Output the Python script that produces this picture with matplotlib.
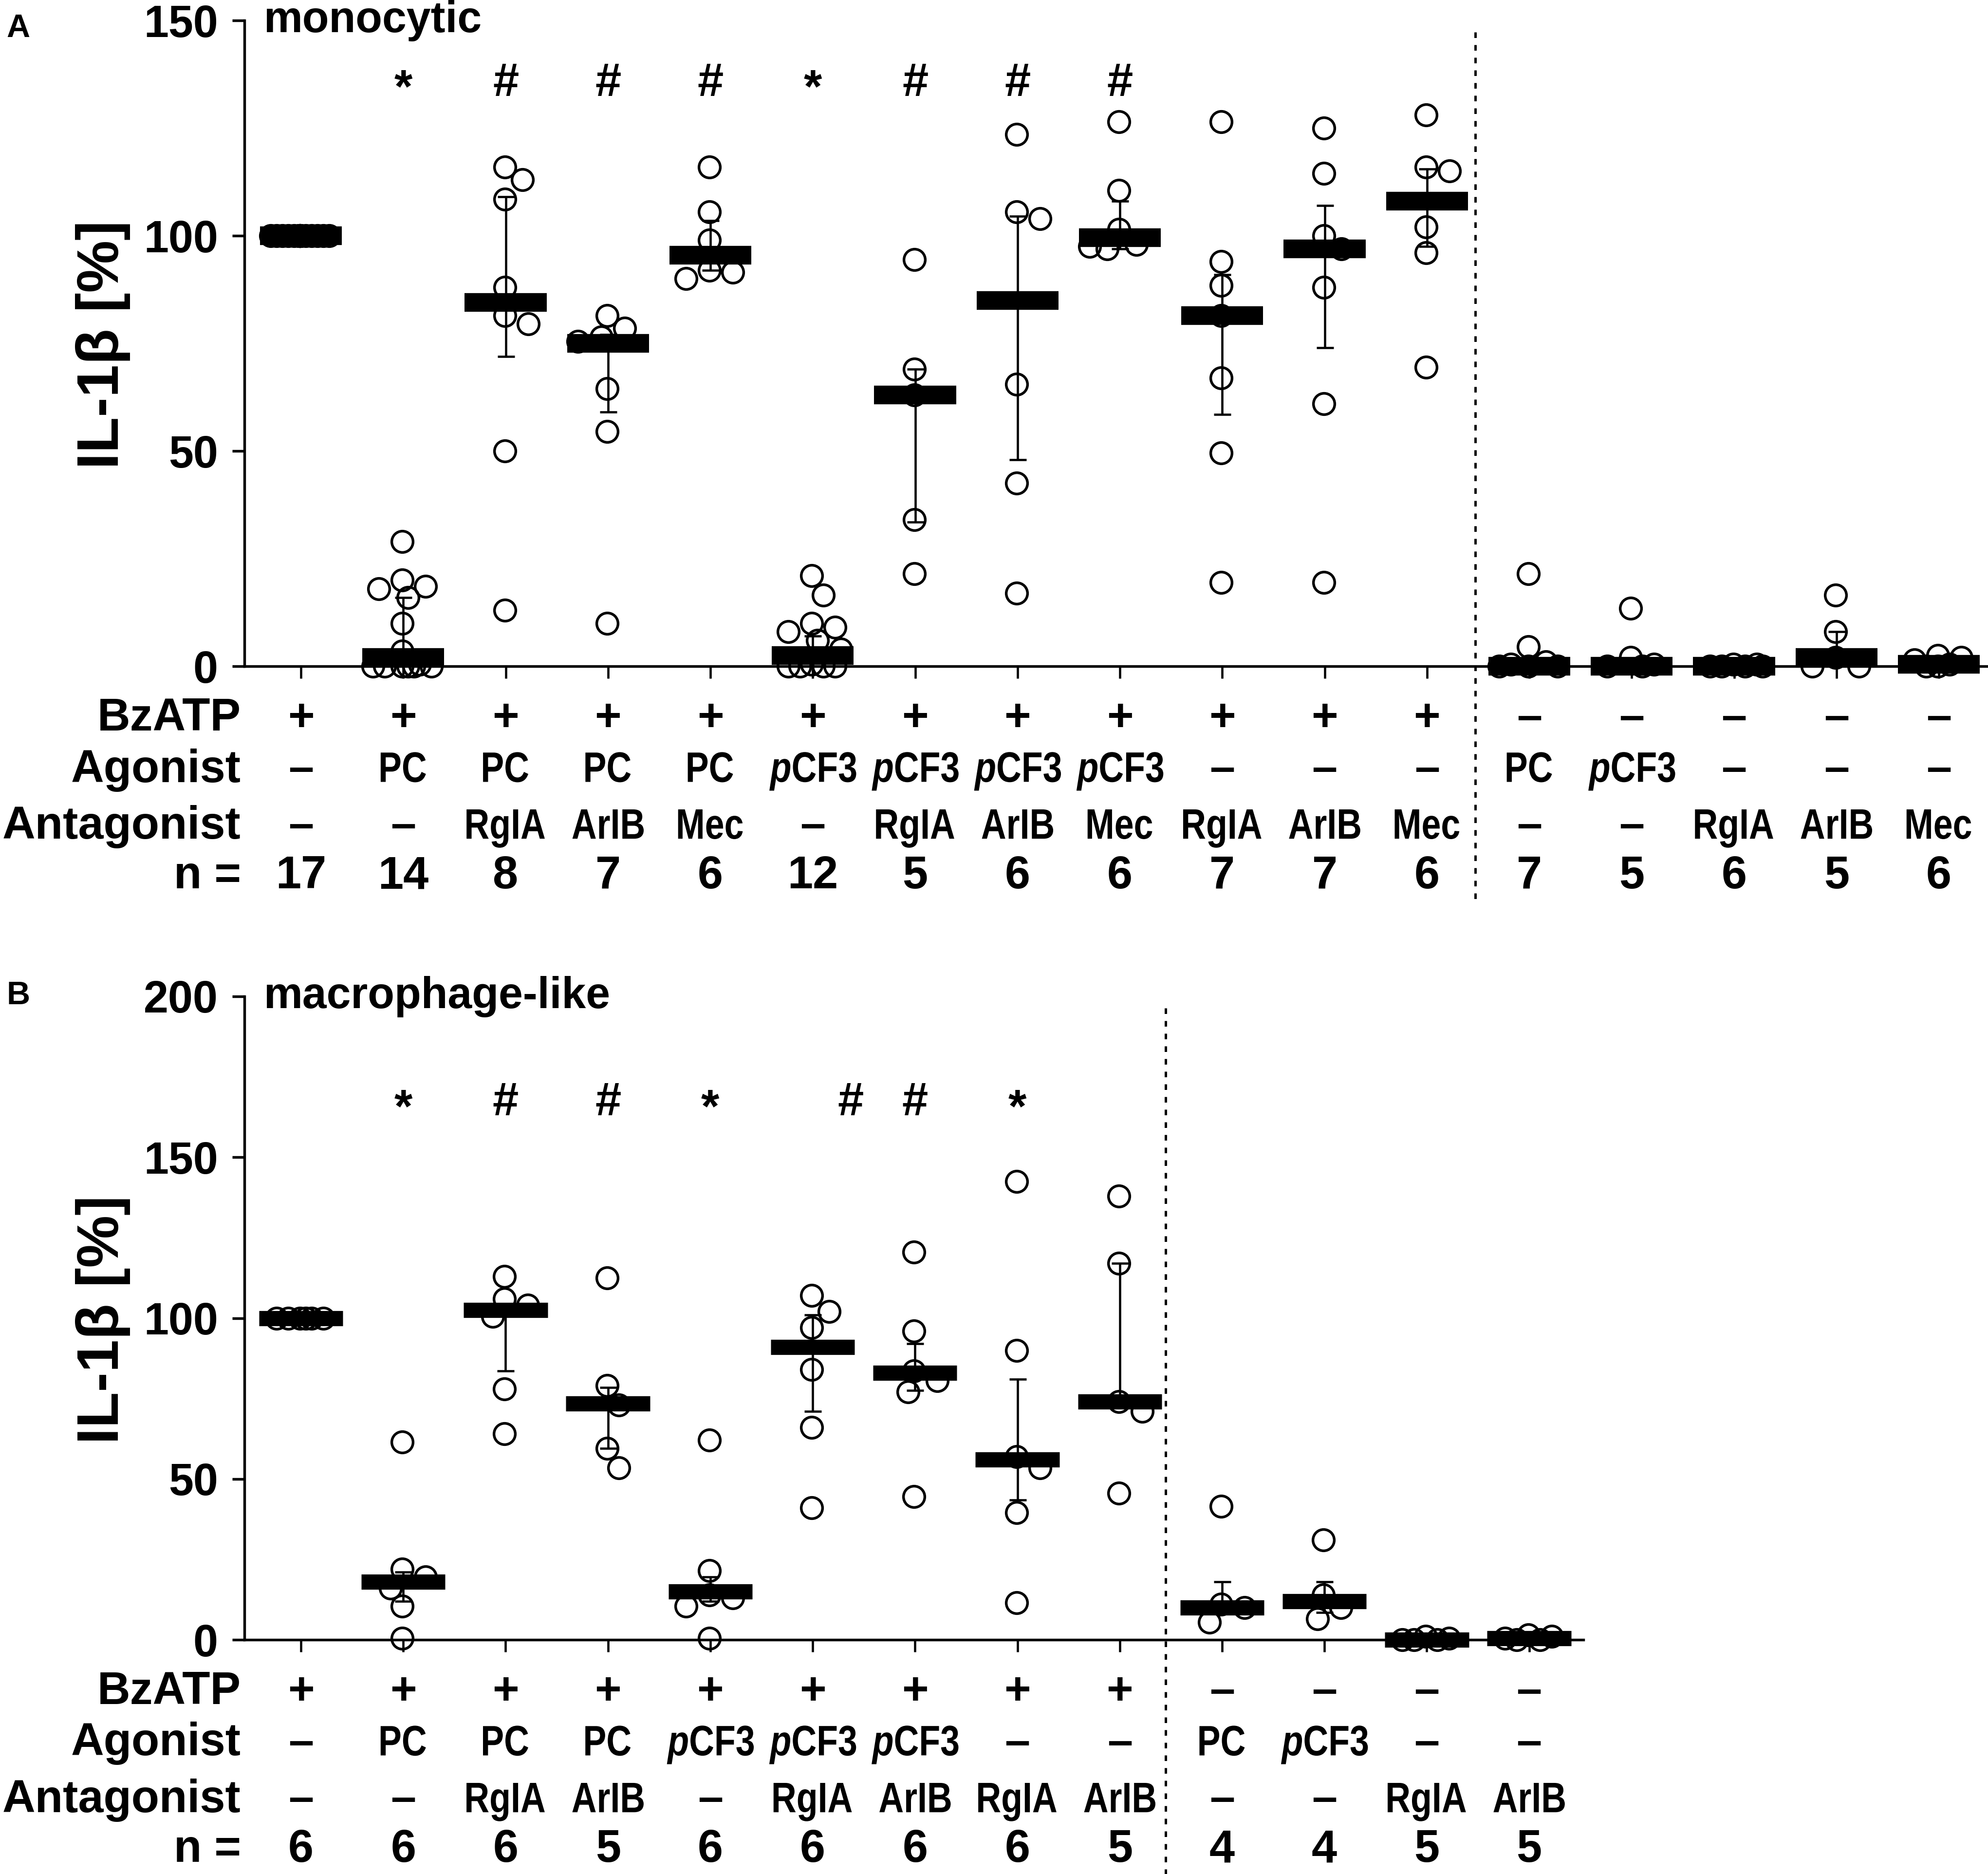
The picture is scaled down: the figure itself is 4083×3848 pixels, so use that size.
import matplotlib
matplotlib.use('Agg')
import matplotlib.pyplot as plt
from matplotlib.font_manager import FontProperties
from matplotlib.textpath import TextPath
from matplotlib.patches import PathPatch
from matplotlib.transforms import Affine2D, ScaledTranslation
import numpy as np

# ---- data: panel A (monocytic) ----
a_values = [
    [100, 100, 100, 100, 100, 100, 100, 100, 100, 100, 100, 100, 100, 100, 100, 100, 100],
    [29, 20, 18.5, 18, 16, 10, 3.5, 0.5, 0, 0, 0, 0, 0, 0],
    [116, 113, 108.5, 88, 81.5, 79.5, 50, 13],
    [81.5, 78.5, 76.5, 75.5, 64.5, 54.5, 10],
    [116, 105.5, 99, 92, 91.5, 90],
    [21, 16.5, 10, 9, 8, 6, 4, 0.5, 0, 0, 0, 0],
    [94.5, 69, 63, 34, 21.5],
    [123.5, 105.5, 104, 65.5, 42.5, 17],
    [126.5, 110.5, 101.5, 98, 97, 97.5],
    [126.5, 94, 88.5, 81.5, 67, 49.5, 19.5],
    [125, 114.5, 100, 97, 88, 61, 19.5],
    [128, 116, 115, 102, 96, 69.5],
    [21.5, 4.5, 1, 0.5, 0, 0, 0],
    [13.5, 2, 0.5, 0, 0],
    [0.5, 0.5, 0, 0, 0, 0],
    [16.5, 8, 2, 0, 0],
    [2.5, 2, 1.5, 0.5, 0, 0],
]
a_median = [100, 2, 84.5, 75, 95.5, 2.5, 63, 85, 99.5, 81.5, 97, 108, 0, 0, 0, 2, 0.5]
a_upper = [100, 16, 109, 77, 103.5, 7, 69, 104.5, 108, 91, 107, 115.5, 1, 0.5, 0.5, 8, 1.5]
a_lower = [100, 0, 72, 59, 92, 0, 33.5, 48, 97, 58.5, 74, 97.5, 0, 0, 0, 0, 0]
a_sig = ['', '*', '#', '#', '#', '*', '#', '#', '#', '', '', '', '', '', '', '', '']
a_bzatp = ['+', '+', '+', '+', '+', '+', '+', '+', '+', '+', '+', '+', '–', '–', '–', '–', '–']
a_agonist = ['–', 'PC', 'PC', 'PC', 'PC', 'pCF3', 'pCF3', 'pCF3', 'pCF3', '–', '–', '–',
             'PC', 'pCF3', '–', '–', '–']
a_antagonist = ['–', '–', 'RgIA', 'ArIB', 'Mec', '–', 'RgIA', 'ArIB', 'Mec', 'RgIA', 'ArIB', 'Mec',
                '–', '–', 'RgIA', 'ArIB', 'Mec']
a_n = [17, 14, 8, 7, 6, 12, 5, 6, 6, 7, 7, 6, 7, 5, 6, 5, 6]

# ---- data: panel B (macrophage-like) ----
b_values = [
    [100, 100, 100, 100, 100, 100],
    [61.5, 22, 19.5, 16, 10.5, 0.5],
    [113, 106, 104, 100.5, 78, 64],
    [112.5, 79, 73, 59.5, 53.5],
    [62, 21.5, 14, 13, 10.5, 0.5],
    [107, 102, 97, 84, 66, 41],
    [120.5, 96, 83.5, 80.5, 77, 44.5],
    [142.5, 90, 57, 53.5, 39.5, 11.5],
    [138, 117, 74, 71, 45.5],
    [41.5, 11, 10, 5.5],
    [31, 14, 10, 6.5],
    [1, 0.5, 0, 0, 0],
    [1.5, 1, 0.5, 0, 0],
]
b_median = [100, 18, 102.5, 73.5, 15, 91, 83, 56, 74, 10, 12, 0, 0.5]
b_upper = [100, 21, 104, 78.5, 19.5, 101, 92, 81, 117, 18, 18, 0.5, 1]
b_lower = [100, 12, 83.5, 59.5, 12, 71, 77.5, 43.5, 72, 8, 8.5, 0, 0]
b_sig = ['', '*', '#', '#', '*', '#', '#', '*', '', '', '', '', '']
b_bzatp = ['+', '+', '+', '+', '+', '+', '+', '+', '+', '–', '–', '–', '–']
b_agonist = ['–', 'PC', 'PC', 'PC', 'pCF3', 'pCF3', 'pCF3', '–', '–', 'PC', 'pCF3', '–', '–']
b_antagonist = ['–', '–', 'RgIA', 'ArIB', '–', 'RgIA', 'ArIB', 'RgIA', 'ArIB', '–', '–', 'RgIA', 'ArIB']
b_n = [6, 6, 6, 5, 6, 6, 6, 6, 5, 4, 4, 5, 5]

# ---- style ----
FONT = 'Liberation Sans'
plt.rcParams['font.family'] = [FONT, 'DejaVu Sans']
plt.rcParams['font.weight'] = 'bold'
plt.rcParams['mathtext.fontset'] = 'custom'
plt.rcParams['mathtext.it'] = FONT + ':italic:bold'
plt.rcParams['mathtext.rm'] = FONT + ':bold'

DPI = 300
W, H = 4083, 3848
ROW_OFFSETS = [31.7, 57.0, 85.0, 109.5]   # baseline distance below the x axis, pt
ROW_HEADERS = ['BzATP', 'Agonist', 'Antagonist', 'n =']
ROW_SIZE = 22.5
VALUE_SIZE = 21
VALUE_XSCALE = 0.82                       # condensed look of the agent names
DASH = (0, (2.3, 2.9))


def fmt_label(s):
    if s.startswith('p') and s != 'PC':
        return r'$\mathit{p}$' + s[1:]
    return s


def narrow_text(ax, x, off_pt, s, size, xscale):
    """Horizontally condensed text centred on data x, off_pt below the axis."""
    prop = FontProperties(family=FONT, weight='bold')
    tp = TextPath((0, 0), s, size=size, prop=prop)
    ext = tp.get_extents()
    cx = (ext.x0 + ext.x1) / 2
    tr = (Affine2D().translate(-cx, -off_pt).scale(xscale / 72, 1 / 72)
          + ax.figure.dpi_scale_trans
          + ScaledTranslation(x, 0, ax.get_xaxis_transform()))
    ax.add_patch(PathPatch(tp, transform=tr, fc='k', ec='none', lw=0, clip_on=False))


def swarm(vals, px_x, px_y, diam=48, half=62):
    """Deterministic beeswarm offsets (data units) for one group."""
    cand = sorted(np.arange(-half, half + 0.1, diam * 0.25), key=lambda c: (abs(c), -c))
    placed, offs = [], []
    for v in vals:
        y = v * px_y
        best, best_d = 0.0, -1.0
        for c in cand:
            d = min((np.hypot(c - px, y - py) for px, py in placed), default=np.inf)
            if d >= diam * 0.9:
                best = c
                break
            if d > best_d:
                best_d, best = d, c
        placed.append((best, y))
        offs.append(best / px_x)
    return offs


def draw_panel(ax, values, median, upper, lower, sig, sig_y, rows, ymax, ystep,
               title, dash_x, bar_lw, bar_half, sig_nudge=None):
    sig_nudge = sig_nudge or {}
    n_groups = len(values)
    x0, x1 = ax.get_xlim()
    bbox = ax.get_position()
    px_x = bbox.width * W / (x1 - x0)
    px_y = bbox.height * H / ymax

    for i, vals in enumerate(values):
        offs = swarm(vals, px_x, px_y)
        ax.plot(np.array(offs) + i, vals, 'o', ms=10.5, mfc='none', mec='k', mew=1.3,
                clip_on=False, zorder=2)
        if upper[i] > lower[i]:
            ax.errorbar(i, median[i], yerr=[[median[i] - lower[i]], [upper[i] - median[i]]],
                        fmt='none', ecolor='k', elinewidth=1.1, capsize=4.2, capthick=1.1,
                        clip_on=False, zorder=3)
        ax.hlines(median[i], i - bar_half, i + bar_half, colors='k', lw=bar_lw,
                  capstyle='butt', clip_on=False, zorder=4)

    for i, s in enumerate(sig):
        if not s:
            continue
        shift = -3 if s == '*' else 0
        ax.annotate(s, xy=(i + sig_nudge.get(i, 0), sig_y), xytext=(0, shift),
                    textcoords='offset points', ha='center', va='baseline',
                    fontsize=23, fontweight='bold')

    ax.set_ylim(0, ymax)
    ax.set_yticks(np.arange(0, ymax + 1, ystep))
    ax.set_xticks(range(n_groups))
    ax.set_xticklabels([])
    for side in ('top', 'right'):
        ax.spines[side].set_visible(False)
    for side in ('left', 'bottom'):
        ax.spines[side].set_linewidth(1.3)
    ax.tick_params(axis='y', direction='out', length=6, width=1.3, pad=7, labelsize=22)
    ax.tick_params(axis='x', direction='out', length=6, width=1.1)
    for lab in ax.get_yticklabels():
        lab.set_fontweight('bold')

    ax.text(-0.36, ymax * 0.982, title, ha='left', va='baseline', fontsize=21.5,
            fontweight='bold', clip_on=False)

    ax.plot([dash_x, dash_x], [0.982, -0.364], color='k', lw=1.2, linestyle=DASH,
            transform=ax.get_xaxis_transform(), clip_on=False)

    for header, vals, off in zip(ROW_HEADERS, rows, ROW_OFFSETS):
        ax.annotate(header, xy=(0, 0), xycoords='axes fraction', xytext=(-1.7, -off),
                    textcoords='offset points', ha='right', va='baseline',
                    fontsize=ROW_SIZE, fontweight='bold')
        for i, v in enumerate(vals):
            v = str(v)
            if header in ('Agonist', 'Antagonist') and v != '–':
                narrow_text(ax, i, off, fmt_label(v), VALUE_SIZE, VALUE_XSCALE)
            else:
                ax.annotate(v, xy=(i, 0), xycoords=('data', 'axes fraction'),
                            xytext=(0, -off), textcoords='offset points', ha='center',
                            va='baseline', fontsize=ROW_SIZE, fontweight='bold')


fig = plt.figure(figsize=(W / DPI, H / DPI), dpi=DPI)

ax_a = fig.add_axes([502 / W, 1 - 1368 / H, (W - 502) / W, (1368 - 42) / H])
ax_a.set_xlim(-0.552, 16.48)
ax_a.set_ylim(0, 150)
draw_panel(ax_a, a_values, a_median, a_upper, a_lower, a_sig, 132.5,
           [a_bzatp, a_agonist, a_antagonist, a_n], 150, 50, 'monocytic',
           11.47, 9.2, 0.40)

ax_b = fig.add_axes([502 / W, 1 - 3367 / H, (3252 - 502) / W, (3367 - 2046) / H])
ax_b.set_xlim(-0.552, 12.53)
ax_b.set_ylim(0, 200)
draw_panel(ax_b, b_values, b_median, b_upper, b_lower, b_sig, 163,
           [b_bzatp, b_agonist, b_antagonist, b_n], 200, 50, 'macrophage-like',
           8.45, 7.5, 0.41, sig_nudge={5: 0.37})

# y-axis titles and panel letters
fig.text(212 / W, 1 - 708 / H, 'IL-1β [%]', rotation=90, ha='center', va='center',
         fontsize=29, fontweight='bold')
fig.text(212 / W, 1 - 2710 / H, 'IL-1β [%]', rotation=90, ha='center', va='center',
         fontsize=29, fontweight='bold')
fig.text(13 / W, 1 - 76 / H, 'A', ha='left', va='baseline', fontsize=16, fontweight='bold')
fig.text(13 / W, 1 - 2062 / H, 'B', ha='left', va='baseline', fontsize=16, fontweight='bold')

fig.savefig('out.png', dpi=DPI)
plt.close(fig)
